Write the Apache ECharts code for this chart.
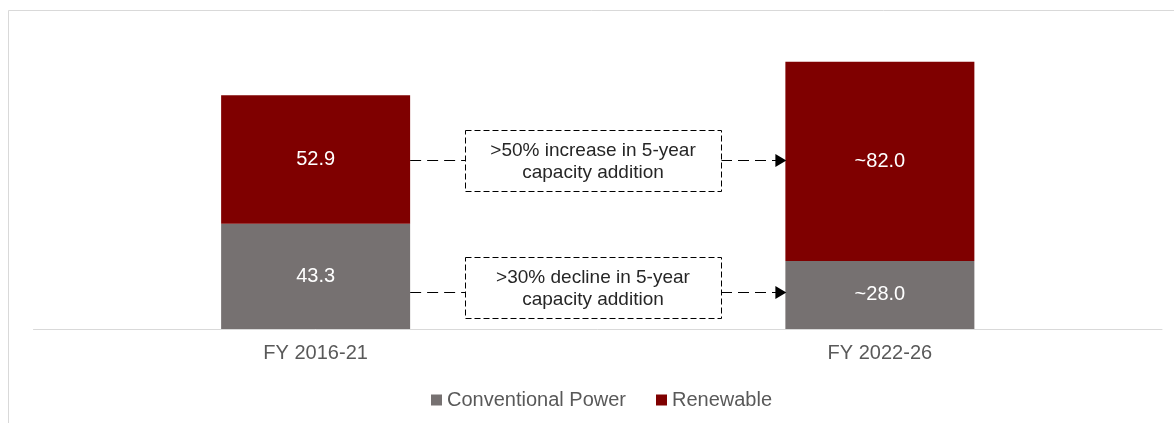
<!DOCTYPE html>
<html>
<head>
<meta charset="utf-8">
<script src="https://cdn.jsdelivr.net/npm/echarts@6/dist/echarts.min.js"></script>
<style>
html,body{margin:0;padding:0;background:#fff;}
#c{width:1174px;height:423px;}
</style>
</head>
<body>
<div id="c"></div>
<script>
const categories = ['FY 2016-21', 'FY 2022-26'];
const conventional = [43.3, 28.0];
const renewable = [52.9, 82.0];
const conventionalLabels = ['43.3', '~28.0'];
const renewableLabels = ['52.9', '~82.0'];
const seriesNames = ['Conventional Power', 'Renewable'];
const annotationTexts = ['>50% increase in 5-year\ncapacity addition', '>30% decline in 5-year\ncapacity addition'];

const FONT = '"Liberation Sans", Arial, sans-serif';
const chart = echarts.init(document.getElementById('c'), null, {renderer: 'canvas'});

const barLabel = (labels) => ({
  show: true, position: 'inside', color: '#ffffff', fontSize: 20, fontFamily: FONT,
  formatter: (p) => labels[p.dataIndex]
});

chart.setOption({
  animation: false,
  backgroundColor: '#ffffff',
  grid: {left: 33.5, right: 12, top: 37.4, bottom: 94, containLabel: false},
  xAxis: {
    type: 'category', data: categories,
    axisLine: {show: true, lineStyle: {color: '#d9d9d9', width: 1}},
    axisTick: {show: false},
    axisLabel: {color: '#595959', fontSize: 20, fontFamily: FONT, margin: 14}
  },
  yAxis: {
    type: 'value', min: 0, max: 120, show: false,
    splitLine: {show: false}
  },
  legend: {
    data: seriesNames, left: 426, top: 385,
    icon: 'rect', itemWidth: 11, itemHeight: 11, itemGap: 30,
    textStyle: {color: '#595959', fontSize: 20, fontFamily: FONT}
  },
  series: [
    {name: seriesNames[0], type: 'bar', stack: 'a', data: conventional, barWidth: 189,
     itemStyle: {color: '#767171'}, label: barLabel(conventionalLabels)},
    {name: seriesNames[1], type: 'bar', stack: 'a', data: renewable, barWidth: 189,
     itemStyle: {color: '#7f0000'}, label: barLabel(renewableLabels)}
  ]
});

// annotation arrows placed relative to the bars via the chart's own scale
const half = 94.5;
const c0 = chart.convertToPixel({gridIndex: 0}, [0, 0]);
const c1 = chart.convertToPixel({gridIndex: 0}, [1, 0]);
const bar1Right = c0[0] + half;
const bar2Left = c1[0] - half;
const yTop = Math.round(chart.convertToPixel({gridIndex: 0}, [0, conventional[0] + renewable[0] / 2])[1]) + 0.5;
const yBot = Math.round(chart.convertToPixel({gridIndex: 0}, [1, conventional[1] / 2])[1] - 3) + 0.5;
const boxL = Math.round(bar1Right + 55), boxR = Math.round(bar2Left - 64), boxH = 61;

function arrowGroup(y, boxCy, text) {
  const dash = {stroke: '#000000', lineWidth: 1, lineDash: [11, 6]};
  return [
    {type: 'line', shape: {x1: bar1Right, y1: y, x2: boxL, y2: y}, style: dash, silent: true},
    {type: 'line', shape: {x1: boxR, y1: y, x2: bar2Left - 9, y2: y}, style: dash, silent: true},
    {type: 'polygon', shape: {points: [[bar2Left - 10, y - 6.5], [bar2Left + 1, y], [bar2Left - 10, y + 6.5]]},
     style: {fill: '#000'}, silent: true, z: 10},
    {type: 'rect', shape: {x: boxL + 0.5, y: Math.round(boxCy - boxH / 2) + 0.5, width: boxR - boxL, height: boxH},
     style: {fill: '#fff', stroke: '#000000', lineWidth: 1, lineDash: [6, 3]}, silent: true},
    {type: 'text', x: (boxL + boxR) / 2, y: boxCy + 1,
     style: {text: text, fill: '#262626', font: '19px ' + FONT, textAlign: 'center', textVerticalAlign: 'middle', lineHeight: 22},
     silent: true, z: 5}
  ];
}

chart.setOption({
  graphic: [
    {type: 'rect', shape: {x: 8.5, y: 10.5, width: 3000, height: 2000},
     style: {fill: 'none', stroke: '#d9d9d9', lineWidth: 1}, silent: true}
  ].concat(arrowGroup(yTop, yTop, annotationTexts[0]), arrowGroup(yBot, yBot - 5, annotationTexts[1]))
});
</script>
</body>
</html>
